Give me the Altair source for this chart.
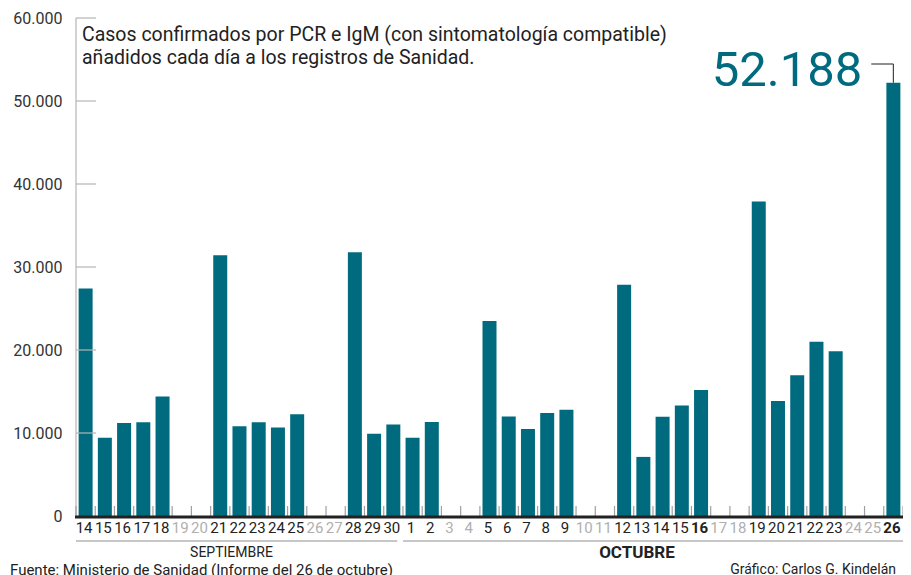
import altair as alt
import pandas as pd

# ---------------- data ----------------
days = ["14", "15", "16", "17", "18", "19", "20", "21", "22", "23", "24", "25", "26", "27",
        "28", "29", "30",
        "1", "2", "3", "4", "5", "6", "7", "8", "9", "10", "11", "12", "13", "14", "15", "16",
        "17", "18", "19", "20", "21", "22", "23", "24", "25", "26"]
months = (["SEPTIEMBRE"] * 17) + (["OCTUBRE"] * 26)
cases = [27400, 9440, 11190, 11290, 14390, None, None, 31430, 10800, 11290, 10650, 12270,
         None, None, 31790, 9910, 11020,
         9420, 11330, None, None, 23480, 12000, 10490, 12420, 12790, None, None, 27860,
         7120, 11970, 13320, 15190, None, None, 37890, 13870, 16970, 20990, 19850, None,
         None, 52188]
bold_labels = ["OCTUBRE-16", "OCTUBRE-26"]
y_ticks = [10000, 20000, 30000, 40000, 50000, 60000]

subtitle = ["Casos confirmados por PCR e IgM (con sintomatología compatible)",
            "añadidos cada día a los registros de Sanidad."]
source = "Fuente: Ministerio de Sanidad (Informe del 26 de octubre)"
credit = "Gráfico: Carlos G. Kindelán"

# ---------------- tables ----------------
n = len(days)
df = pd.DataFrame({"idx": list(range(n)), "day": days, "month": months, "value": cases})
df["key"] = df["month"] + "-" + df["day"]

bdf = pd.DataFrame({"b": [i - 0.5 for i in range(n + 1)]})
ydf = pd.DataFrame({"v": y_ticks})

mdf = df.groupby("month", sort=False)["idx"].agg(["min", "max"]).reset_index()
mdf["start"] = mdf["min"] - 0.5
mdf["end"] = mdf["max"] + 0.5
mdf["end_line"] = [e - 0.3 if i < len(mdf) - 1 else e for i, e in enumerate(mdf["end"])]
mdf["mid"] = (mdf["start"] + mdf["end"]) / 2

last = df[df["idx"] == n - 1].copy()

one = pd.DataFrame({"a": [0]})

# ---------------- styling ----------------
TEAL = "#006b7e"
FONT = "Roboto"
W, H = 827, 498

xs = alt.Scale(domain=[-0.5, n - 0.5], nice=False, zero=False)
ys = alt.Scale(domain=[0, 60000], nice=False)

bars = alt.Chart(df).transform_filter("isValid(datum.value)").transform_calculate(
    x0="datum.idx - 0.364", x1="datum.idx + 0.364"
).mark_bar(color=TEAL).encode(
    x=alt.X("x0:Q", scale=xs, axis=None),
    x2="x1:Q",
    y=alt.Y("value:Q", scale=ys, axis=alt.Axis(
        values=[0] + y_ticks, labelExpr="replace(format(datum.value, ','), ',', '.')",
        domain=False, ticks=False, grid=False, labelPadding=14, labelFontSize=16,
        labelFont=FONT, labelColor="#333", title=None)),
    y2=alt.datum(0),
)

yline = alt.Chart(one).mark_rule(color="#b5b5b5", strokeWidth=1.2).encode(
    x=alt.value(0), y=alt.value(0), y2=alt.value(H))

yticks = alt.Chart(ydf).mark_rule(color="#b5b5b5", strokeWidth=1.2).encode(
    y=alt.Y("v:Q", scale=ys), x=alt.value(0), x2=alt.value(20))

xticks = alt.Chart(bdf).mark_rule(color="#a0a0a0", strokeWidth=1.2).encode(
    x=alt.X("b:Q", scale=xs), y=alt.value(H), y2=alt.value(H - 10))

baseline = alt.Chart(one).mark_rule(color="#222", strokeWidth=3).encode(
    x=alt.value(-1), x2=alt.value(W), y=alt.value(H + 1))

bold_test = "indexof(%s, datum.key) >= 0" % str(bold_labels)

labels = alt.Chart(df).transform_filter("!(" + bold_test + ")").mark_text(
    font=FONT, fontSize=15, baseline="middle", dx=-1.5).encode(
    x=alt.X("idx:Q", scale=xs),
    y=alt.value(510),
    text="day:N",
    color=alt.condition("isValid(datum.value)", alt.value("#222"), alt.value("#b0b0b0")),
)

labels_b = alt.Chart(df).transform_filter(bold_test).mark_text(
    font=FONT, fontSize=15, fontWeight="bold", baseline="middle", dx=-1.5).encode(
    x=alt.X("idx:Q", scale=xs),
    y=alt.value(510),
    text="day:N",
    color=alt.condition("isValid(datum.value)", alt.value("#222"), alt.value("#b0b0b0")),
)

mlines = alt.Chart(mdf).mark_rule(color="#b5b5b5", strokeWidth=1.5).encode(
    x=alt.X("start:Q", scale=xs), x2="end_line:Q", y=alt.value(523))

mlab_sep = alt.Chart(mdf).transform_filter("datum.month == 'SEPTIEMBRE'").mark_text(
    font=FONT, fontSize=14, color="#222", baseline="middle", dx=-8).encode(
    x=alt.X("mid:Q", scale=xs), y=alt.value(535), text="month:N")

mlab_oct = alt.Chart(mdf).transform_filter("datum.month == 'OCTUBRE'").mark_text(
    font=FONT, fontSize=17, fontWeight="bold", color="#222", baseline="middle",
    dx=-16).encode(
    x=alt.X("mid:Q", scale=xs), y=alt.value(535), text="month:N")

sub = alt.Chart(one).mark_text(font=FONT, fontSize=19.5, color="#222", align="left",
                               baseline="alphabetic", lineHeight=23).encode(
    x=alt.value(6), y=alt.value(23), text=alt.value(subtitle))

big = alt.Chart(last).transform_calculate(
    lab="replace(format(datum.value, ','), ',', '.')"
).mark_text(font=FONT, fontSize=49, color=TEAL, align="right", baseline="alphabetic",
            dx=-31).encode(
    x=alt.X("idx:Q", scale=xs), y=alt.value(68), text="lab:N")

conn_h = alt.Chart(last).transform_calculate(xl="datum.idx - 1.15").mark_rule(
    color="#444", strokeWidth=1.2).encode(
    x=alt.X("idx:Q", scale=xs), x2="xl:Q", y=alt.value(46))

conn_v = alt.Chart(last).mark_rule(color="#444", strokeWidth=1.2).encode(
    x=alt.X("idx:Q", scale=xs), y=alt.Y("value:Q", scale=ys), y2=alt.value(46))

foot_l = alt.Chart(one).mark_text(font=FONT, fontSize=15, color="#222", align="left",
                                  baseline="middle").encode(
    x=alt.value(-66), y=alt.value(552), text=alt.value(source))

foot_r = alt.Chart(one).mark_text(font=FONT, fontSize=14, color="#222", align="right",
                                  baseline="middle").encode(
    x=alt.value(820), y=alt.value(552), text=alt.value(credit))

chart = alt.layer(
    bars, yline, yticks, xticks, baseline, labels, labels_b, mlines, mlab_sep, mlab_oct,
    sub, big, conn_h, conn_v, foot_l, foot_r
).properties(
    width=W, height=H,
    background="white",
    autosize=alt.AutoSizeParams(type="none"),
    padding={"left": 68, "top": 10, "right": 0, "bottom": 59},
).configure_view(stroke=None)

chart.save("out.html", embed_options={"renderer": "svg", "actions": False})
